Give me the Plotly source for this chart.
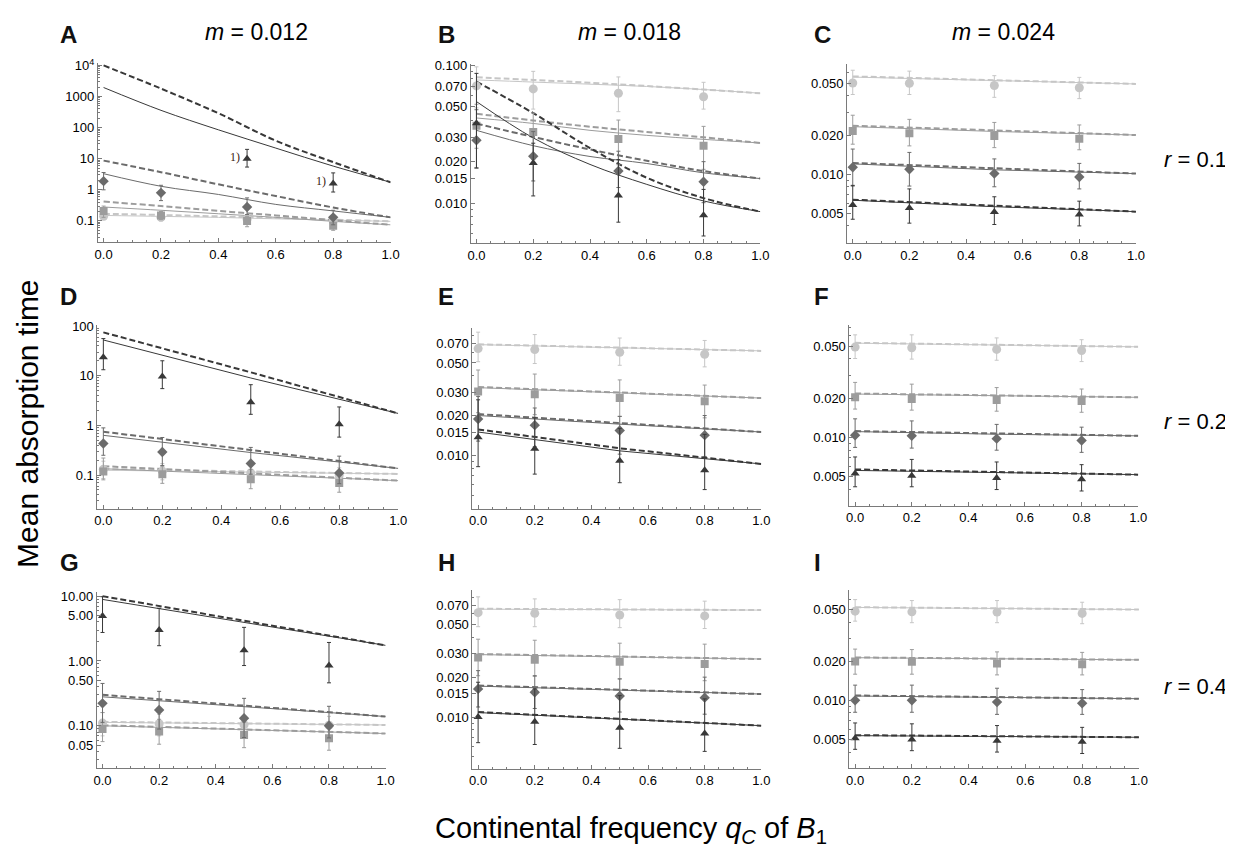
import math
import plotly.graph_objects as go

# x positions of the simulated points and of the read-off model curves
X_DATA = [0.0, 0.2, 0.5, 0.8]
X_CURVE_FINE = [0.0, 0.2, 0.4, 0.6, 0.8, 1.0]
X_CURVE = [0.0, 0.5, 1.0]

# series order in every list below: circle, square, diamond, triangle

# ---- A  (m = 0.012, r = 0.1)
A_dashed = [[0.17, 0.155, 0.14, 0.125, 0.11, 0.097],
            [0.42, 0.30, 0.21, 0.15, 0.105, 0.075],
            [8.7, 3.7, 1.5, 0.63, 0.27, 0.13],
            [10000, 1800, 290, 38, 7.8, 1.75]]
A_solid = [[0.15, 0.14, 0.13, 0.117, 0.106, 0.097],
           [0.28, 0.22, 0.17, 0.13, 0.097, 0.075],
           [3.3, 1.3, 0.71, 0.34, 0.21, 0.13],
           [1950, 360, 85, 22, 5.8, 1.75]]
A_mean = [[0.14, 0.13, 0.115, 0.1], [0.21, 0.15, 0.1, 0.07],
          [1.9, 0.8, 0.28, 0.13], [None, None, 10, 1.6]]
A_hi = [[0.18, 0.165, 0.15, 0.13], [0.3, 0.2, 0.14, 0.09],
        [3.6, 1.4, 0.55, 0.22], [None, None, 20, 3.5]]
A_lo = [[0.11, 0.1, 0.085, 0.075], [0.13, 0.11, 0.065, 0.05],
        [1.0, 0.45, 0.16, 0.075], [None, None, 5.4, 0.85]]

# ---- B  (m = 0.018, r = 0.1)
B_dashed = [[0.0815, 0.078, 0.0745, 0.0705, 0.0665, 0.0625],
            [0.0444, 0.0397, 0.0358, 0.0328, 0.0300, 0.0273],
            [0.0377, 0.0302, 0.0245, 0.0203, 0.0171, 0.0151],
            [0.0759, 0.0449, 0.0251, 0.0153, 0.0109, 0.0087]]
B_solid = [[0.078, 0.0753, 0.0727, 0.070, 0.0665, 0.0625],
           [0.0414, 0.0378, 0.0337, 0.0310, 0.0290, 0.0273],
           [0.0337, 0.0261, 0.0218, 0.0194, 0.0166, 0.0151],
           [0.0544, 0.0297, 0.0191, 0.0137, 0.0104, 0.0087]]
B_mean = [[0.0706, 0.0672, 0.0625, 0.059], [0.0364, 0.0328, 0.0292, 0.0261],
          [0.0286, 0.0219, 0.0171, 0.0143], [0.038, 0.0196, 0.0114, 0.0082]]
B_hi = [[0.097, 0.090, 0.082, 0.075], [0.052, 0.045, 0.040, 0.036],
        [0.0475, 0.033, 0.0238, 0.020], [0.087, 0.0272, 0.0207, 0.0126]]
B_lo = [[0.049, 0.048, 0.046, 0.048], [0.025, 0.0207, 0.019, 0.0176],
        [0.018, 0.0145, 0.013, 0.0101], [0.018, 0.0113, 0.0073, 0.0058]]

# ---- C  (m = 0.024, r = 0.1)
C_dashed = [[0.0565, 0.0528, 0.0494], [0.0236, 0.0217, 0.0200],
            [0.0122, 0.0111, 0.0101], [0.00636, 0.00575, 0.00515]]
C_solid = [[0.0558, 0.0522, 0.0494], [0.0232, 0.0213, 0.0200],
           [0.0120, 0.0108, 0.0101], [0.00630, 0.00562, 0.00515]]
C_mean = [[0.0503, 0.050, 0.0481, 0.0462], [0.0215, 0.0206, 0.0197, 0.0187],
          [0.0113, 0.0109, 0.0101, 0.0095], [0.00578, 0.0055, 0.00512, 0.0049]]
C_hi = [[0.063, 0.062, 0.0572, 0.0555], [0.0284, 0.0264, 0.025, 0.0239],
        [0.0156, 0.0147, 0.0131, 0.0121], [0.0082, 0.0077, 0.0067, 0.0062]]
C_lo = [[0.041, 0.041, 0.039, 0.0381], [0.017, 0.0165, 0.016, 0.0154],
        [0.0081, 0.0081, 0.0080, 0.0077], [0.0045, 0.0042, 0.0041, 0.004]]

# ---- D  (m = 0.012, r = 0.2)
D_dashed = [[0.132, 0.118, 0.105], [0.151, 0.108, 0.077],
            [0.747, 0.316, 0.136], [74.7, 11.7, 1.74]]
D_solid = [[0.125, 0.115, 0.105], [0.134, 0.100, 0.077],
           [0.63, 0.284, 0.136], [52.5, 9.0, 1.74]]
D_mean = [[0.13, 0.12, 0.11, 0.10], [0.118, 0.104, 0.0825, 0.069],
          [0.43, 0.29, 0.171, 0.11], [23.6, 9.7, 2.93, 1.05]]
D_hi = [[0.19, 0.17, 0.155, 0.14], [0.22, 0.15, 0.13, 0.104],
        [0.89, 0.57, 0.36, 0.24], [56, 20, 6.6, 2.35]]
D_lo = [[0.085, 0.08, 0.075, 0.07], [0.08, 0.068, 0.053, 0.045],
        [0.25, 0.155, 0.104, 0.067], [13.2, 5.5, 1.67, 0.58]]

# ---- E  (m = 0.018, r = 0.2)
E_dashed = [[0.0692, 0.0654, 0.0617], [0.0329, 0.0299, 0.0271],
            [0.0205, 0.0175, 0.015], [0.0157, 0.0113, 0.0086]]
E_solid = [[0.0688, 0.065, 0.0617], [0.0325, 0.0296, 0.0271],
           [0.0200, 0.0172, 0.015], [0.015, 0.0108, 0.0086]]
E_mean = [[0.0642, 0.0631, 0.0603, 0.0582], [0.0304, 0.029, 0.0271, 0.0256],
          [0.0188, 0.0169, 0.0154, 0.0142], [0.0137, 0.0112, 0.0091, 0.0077]]
E_hi = [[0.0855, 0.082, 0.0772, 0.074], [0.0442, 0.0412, 0.0372, 0.034],
        [0.0279, 0.0228, 0.0197, 0.020], [0.0263, 0.0192, 0.016, 0.0144]]
E_lo = [[0.0511, 0.0495, 0.048, 0.0467], [0.021, 0.0203, 0.0197, 0.0192],
        [0.0128, 0.0116, 0.0102, 0.0098], [0.0082, 0.0072, 0.0062, 0.0055]]

# ---- F  (m = 0.024, r = 0.2)
F_dashed = [[0.053, 0.0512, 0.0494], [0.0217, 0.021, 0.0203],
            [0.0112, 0.0107, 0.0103], [0.0057, 0.00545, 0.0052]]
F_solid = [[0.0527, 0.051, 0.0494], [0.0215, 0.0208, 0.0203],
           [0.0111, 0.0106, 0.0103], [0.0056, 0.0054, 0.0052]]
F_mean = [[0.0492, 0.0486, 0.0472, 0.0463], [0.0203, 0.0197, 0.0194, 0.019],
          [0.0104, 0.0103, 0.0098, 0.0095], [0.0053, 0.0051, 0.0049, 0.0048]]
F_hi = [[0.061, 0.061, 0.0578, 0.056], [0.0264, 0.0256, 0.0241, 0.0235],
        [0.0139, 0.0134, 0.0126, 0.012], [0.0071, 0.0068, 0.0065, 0.0062]]
F_lo = [[0.0402, 0.0398, 0.039, 0.0381], [0.0165, 0.0162, 0.0159, 0.0156],
        [0.0084, 0.0083, 0.008, 0.0077], [0.0042, 0.0042, 0.004, 0.0039]]

# ---- G  (m = 0.012, r = 0.4)
G_dashed = [[0.115, 0.109, 0.103], [0.102, 0.088, 0.076],
            [0.30, 0.205, 0.139], [10.0, 4.2, 1.74]]
G_solid = [[0.113, 0.108, 0.103], [0.10, 0.087, 0.076],
           [0.28, 0.197, 0.139], [8.9, 3.95, 1.74]]
G_mean = [[0.11, 0.108, 0.104, 0.102], [0.089, 0.082, 0.072, 0.064],
          [0.222, 0.175, 0.131, 0.1], [4.94, 3.0, 1.46, 0.85]]
G_hi = [[0.16, 0.15, 0.145, 0.14], [0.16, 0.126, 0.113, 0.107],
        [0.45, 0.34, 0.265, 0.2], [9.8, 6.5, 3.3, 1.93]]
G_lo = [[0.07, 0.07, 0.068, 0.066], [0.057, 0.052, 0.046, 0.042],
        [0.113, 0.089, 0.066, 0.065], [2.75, 1.72, 0.85, 0.46]]

# ---- H  (m = 0.018, r = 0.4)
H_dashed = [[0.0657, 0.0649, 0.0642], [0.0299, 0.0286, 0.0274],
            [0.0173, 0.0161, 0.0149], [0.0109, 0.0097, 0.0086]]
H_solid = [[0.0652, 0.0646, 0.0642], [0.0296, 0.0284, 0.0274],
           [0.0171, 0.0159, 0.0149], [0.0108, 0.0096, 0.0086]]
H_mean = [[0.0614, 0.0607, 0.059, 0.058], [0.0282, 0.0271, 0.0262, 0.0251],
          [0.0163, 0.0154, 0.0144, 0.014], [0.01, 0.0092, 0.0083, 0.0075]]
H_hi = [[0.0808, 0.078, 0.077, 0.075], [0.0387, 0.038, 0.0361, 0.0355],
        [0.0224, 0.0205, 0.0194, 0.020], [0.0183, 0.0163, 0.0145, 0.0137]]
H_lo = [[0.0481, 0.0481, 0.0473, 0.0466], [0.0205, 0.0203, 0.0194, 0.0188],
        [0.0119, 0.0116, 0.0109, 0.0105], [0.0064, 0.0062, 0.0058, 0.0055]]

# ---- I  (m = 0.024, r = 0.4)
I_dashed = [[0.0521, 0.051, 0.050], [0.0214, 0.0209, 0.0205],
            [0.0109, 0.0106, 0.0103], [0.0054, 0.0053, 0.0052]]
I_solid = [[0.0519, 0.0509, 0.050], [0.0213, 0.0208, 0.0205],
           [0.0108, 0.0105, 0.0103], [0.00535, 0.00527, 0.0052]]
I_mean = [[0.0486, 0.048, 0.0478, 0.0467], [0.0199, 0.0198, 0.0192, 0.019],
          [0.01, 0.01, 0.0097, 0.0095], [0.0051, 0.005, 0.0049, 0.0048]]
I_hi = [[0.0596, 0.0586, 0.0586, 0.0569], [0.0248, 0.0246, 0.0236, 0.0234],
        [0.0131, 0.0131, 0.0124, 0.0121], [0.0067, 0.0066, 0.0064, 0.0062]]
I_lo = [[0.0407, 0.0396, 0.0396, 0.0389], [0.0159, 0.0159, 0.0157, 0.0157],
        [0.0081, 0.0081, 0.0078, 0.0078], [0.0042, 0.0041, 0.004, 0.0039]]

# y tick labels per panel
Y_TICKS = {
    "A": ([0.1, 1, 10, 100, 1000, 10000], ["0.1", "1", "10", "100", "1000", "10<sup>4</sup>"]),
    "B": ([0.01, 0.015, 0.02, 0.03, 0.05, 0.07, 0.1],
          ["0.010", "0.015", "0.020", "0.030", "0.050", "0.070", "0.100"]),
    "C": ([0.005, 0.01, 0.02, 0.05], ["0.005", "0.010", "0.020", "0.050"]),
    "D": ([0.1, 1, 10, 100], ["0.1", "1", "10", "100"]),
    "E": ([0.01, 0.015, 0.02, 0.03, 0.05, 0.07],
          ["0.010", "0.015", "0.020", "0.030", "0.050", "0.070"]),
    "F": ([0.005, 0.01, 0.02, 0.05], ["0.005", "0.010", "0.020", "0.050"]),
    "G": ([0.05, 0.1, 0.5, 1, 5, 10], ["0.05", "0.10", "0.50", "1.00", "5.00", "10.00"]),
    "H": ([0.01, 0.015, 0.02, 0.03, 0.05, 0.07],
          ["0.010", "0.015", "0.020", "0.030", "0.050", "0.070"]),
    "I": ([0.005, 0.01, 0.02, 0.05], ["0.005", "0.010", "0.020", "0.050"]),
}
X_TICKS = [0.0, 0.2, 0.4, 0.6, 0.8, 1.0]

COL_TITLES = ["<i>m</i> = 0.012", "<i>m</i> = 0.018", "<i>m</i> = 0.024"]
ROW_TITLES = ["<i>r</i> = 0.1", "<i>r</i> = 0.2", "<i>r</i> = 0.4"]

panels = [
    ("A", A_dashed, A_solid, A_mean, A_hi, A_lo, X_CURVE_FINE),
    ("B", B_dashed, B_solid, B_mean, B_hi, B_lo, X_CURVE_FINE),
    ("C", C_dashed, C_solid, C_mean, C_hi, C_lo, X_CURVE),
    ("D", D_dashed, D_solid, D_mean, D_hi, D_lo, X_CURVE),
    ("E", E_dashed, E_solid, E_mean, E_hi, E_lo, X_CURVE),
    ("F", F_dashed, F_solid, F_mean, F_hi, F_lo, X_CURVE),
    ("G", G_dashed, G_solid, G_mean, G_hi, G_lo, X_CURVE),
    ("H", H_dashed, H_solid, H_mean, H_hi, H_lo, X_CURVE),
    ("I", I_dashed, I_solid, I_mean, I_hi, I_lo, X_CURVE),
]

# ---------------------------------------------------------------- styling
W, H = 1233, 850
FONT = "Liberation Sans, Arial, Helvetica, sans-serif"
AXIS_COLOR = "#7a7a7a"

# pixel box of each plot frame (left, right, top, bottom) and log10 y range
GEOM = {
    "A": (87.7, 383.3, 49.3, 230.0, -1.69, 4.08),
    "B": (464.3, 756.7, 50.0, 231.0, -2.29, -0.99),
    "C": (844.3, 1136.0, 50.0, 230.7, -2.53, -1.15),
    "D": (87.3, 391.0, 313.3, 498.3, -1.68, 2.02),
    "E": (466.0, 757.7, 316.7, 498.3, -2.405, -1.04),
    "F": (846.7, 1138.3, 313.3, 495.0, -2.52, -1.14),
    "G": (86.7, 378.3, 581.7, 759.3, -1.65, 1.07),
    "H": (466.0, 757.7, 580.0, 760.0, -2.39, -1.04),
    "I": (846.7, 1139.0, 580.0, 759.3, -2.52, -1.15),
}

SERIES_STYLE = [
    dict(color="#c6c6c6", symbol="circle", size=9),
    dict(color="#9c9c9c", symbol="square", size=8),
    dict(color="#6b6b6b", symbol="diamond", size=8),
    dict(color="#383838", symbol="triangle-up", size=8),
]


def minor_vals(lo, hi):
    out = []
    for e in range(math.floor(lo) - 1, math.ceil(hi) + 1):
        for k in range(1, 10):
            v = k * 10 ** e
            if lo <= math.log10(v) <= hi:
                out.append(v)
    return out


fig = go.Figure()
layout = dict(
    width=W, height=H,
    margin=dict(l=0, r=0, t=0, b=0),
    paper_bgcolor="white", plot_bgcolor="white",
    showlegend=False,
    font=dict(family=FONT, color="black"),
)
annotations = []

for k, (name, dashed, solid, mean, hi, lo, xc) in enumerate(panels, start=1):
    left, right, top, bottom, y0, y1 = GEOM[name]
    xa = "x" if k == 1 else f"x{k}"
    ya = "y" if k == 1 else f"y{k}"
    smooth = "spline" if name in ("A", "B") else "linear"

    for s, st in enumerate(SERIES_STYLE):
        fig.add_trace(go.Scatter(
            x=xc, y=solid[s], mode="lines", xaxis=xa, yaxis=ya,
            line=dict(color=st["color"], width=1, shape=smooth),
            hoverinfo="skip"))
        fig.add_trace(go.Scatter(
            x=xc, y=dashed[s], mode="lines", xaxis=xa, yaxis=ya,
            line=dict(color=st["color"], width=2, dash="6px,3px", shape=smooth),
            hoverinfo="skip"))

    for s, st in enumerate(SERIES_STYLE):
        xs, ys, up, dn = [], [], [], []
        for x, m, h, l in zip(X_DATA, mean[s], hi[s], lo[s]):
            if m is None:
                continue
            xs.append(x)
            ys.append(m)
            up.append(h - m)
            dn.append(m - l)
        fig.add_trace(go.Scatter(
            x=xs, y=ys, mode="markers", xaxis=xa, yaxis=ya,
            marker=dict(color=st["color"], symbol=st["symbol"], size=st["size"]),
            error_y=dict(type="data", symmetric=False, array=up, arrayminus=dn,
                         color=st["color"], thickness=1, width=2)))

    tv, tt = Y_TICKS[name]
    layout["xaxis" if k == 1 else f"xaxis{k}"] = dict(
        domain=[left / W, right / W], anchor=ya, range=[-0.02, 1.0],
        showgrid=False, zeroline=False, showline=True, linecolor=AXIS_COLOR,
        linewidth=1, ticks="inside", ticklen=4, tickcolor=AXIS_COLOR,
        tickmode="array", tickvals=X_TICKS,
        ticktext=[f"{v:.1f}" for v in X_TICKS],
        tickfont=dict(size=13, family=FONT),
        minor=dict(tickmode="array",
                   tickvals=[i / 20 for i in range(21) if i % 4],
                   ticks="inside", ticklen=2, tickcolor=AXIS_COLOR),
    )
    layout["yaxis" if k == 1 else f"yaxis{k}"] = dict(
        domain=[1 - bottom / H, 1 - top / H], anchor=xa, type="log",
        range=[y0, y1],
        showgrid=False, zeroline=False, showline=True, linecolor=AXIS_COLOR,
        linewidth=1, ticks="inside", ticklen=4, tickcolor=AXIS_COLOR,
        tickmode="array", tickvals=tv, ticktext=tt,
        tickfont=dict(size=13, family=FONT),
        minor=dict(tickmode="array",
                   tickvals=[v for v in minor_vals(y0, y1) if v not in tv],
                   ticks="inside", ticklen=2, tickcolor=AXIS_COLOR),
    )

    # panel letter
    letter_x = {0: 47, 1: 429, 2: 809}[(k - 1) % 3]
    letter_y = {0: 21, 1: 285, 2: 552}[(k - 1) // 3]
    annotations.append(dict(
        text=f"<b>{name}</b>", x=letter_x / W, y=1 - letter_y / H,
        xref="paper", yref="paper", xanchor="left", yanchor="middle",
        showarrow=False, font=dict(size=24, family=FONT, color="#111111")))

# footnote marks on the two triangles of panel A
for xv, yv in zip(X_DATA[2:], A_mean[3][2:]):
    annotations.append(dict(
        text="1)", x=xv, y=math.log10(yv), xref="x", yref="y",
        xanchor="right", yanchor="middle", xshift=-5, yshift=2,
        showarrow=False,
        font=dict(size=12, family="Liberation Serif, Times New Roman, serif",
                  color="#3a1a10")))

for t, cx in zip(COL_TITLES, [248, 625, 1002]):
    annotations.append(dict(
        text=t, x=cx / W, y=1 - 18 / H, xref="paper", yref="paper",
        xanchor="center", yanchor="middle", showarrow=False,
        font=dict(size=23, family=FONT)))

for t, cy in zip(ROW_TITLES, [147, 410, 677]):
    annotations.append(dict(
        text=t, x=1162 / W, y=1 - cy / H, xref="paper", yref="paper",
        xanchor="left", yanchor="middle", showarrow=False,
        font=dict(size=22, family=FONT)))

annotations.append(dict(
    text="Mean absorption time", x=16 / W, y=1 - 412 / H,
    xref="paper", yref="paper", textangle=-90, xanchor="center",
    yanchor="middle", showarrow=False, font=dict(size=30, family=FONT)))
annotations.append(dict(
    text="Continental frequency <i>q<sub>C</sub></i> of <i>B</i><sub>1</sub>",
    x=426 / W, y=1 - 822 / H, xref="paper", yref="paper",
    xanchor="left", yanchor="middle", showarrow=False,
    font=dict(size=29, family=FONT)))

layout["annotations"] = annotations
fig.update_layout(**layout)

fig.write_html("out.html")
